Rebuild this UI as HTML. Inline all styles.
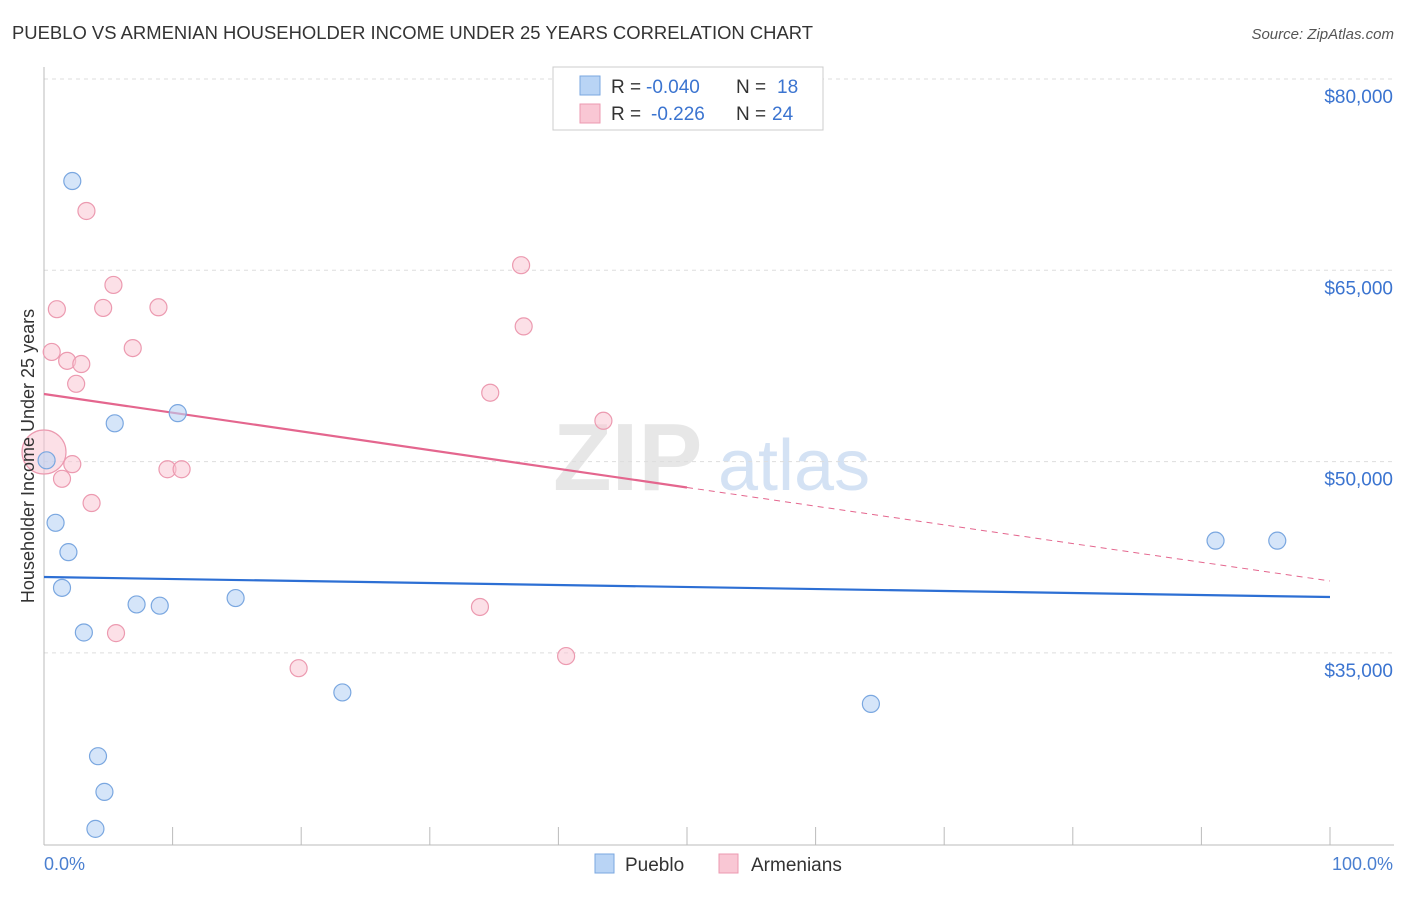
<!DOCTYPE html>
<html><head><meta charset="utf-8">
<style>
body{margin:0;background:#fff;font-family:"Liberation Sans",sans-serif;}
svg text{font-family:"Liberation Sans",sans-serif;}
</style></head>
<body>
<svg id="chart" width="1406" height="892" xmlns="http://www.w3.org/2000/svg">
<text x="12" y="39" font-size="18" fill="#333" textLength="801" lengthAdjust="spacingAndGlyphs">PUEBLO VS ARMENIAN HOUSEHOLDER INCOME UNDER 25 YEARS CORRELATION CHART</text>
<text x="1394" y="39" font-size="15" fill="#555" text-anchor="end" font-style="italic">Source: ZipAtlas.com</text>
<g>
<text x="553" y="490" font-size="96" fill="#d8d8d8" font-family="Liberation Serif" font-weight="bold" opacity="0.6">ZIP</text>
<text x="718" y="490" font-size="72" fill="#b8d0ee" opacity="0.6">atlas</text>
</g>
<g id="grid"></g>
<g id="axes"></g>
<g id="lines"></g>
<g id="points"></g>
<text transform="translate(34,456) rotate(-90)" font-size="18" fill="#333" text-anchor="middle">Householder Income Under 25 years</text>
<text x="44" y="870" font-size="18" fill="#4a7fd0">0.0%</text>
<text x="1393" y="870" font-size="18" fill="#4a7fd0" text-anchor="end">100.0%</text>
<g>
<rect x="553" y="67" width="270" height="63" fill="#fff" stroke="#ccc"/>
<rect x="580" y="76" width="20" height="19" fill="#b9d4f5" stroke="#7aa7e0"/>
<rect x="580" y="104" width="20" height="19" fill="#f9c7d4" stroke="#ec9ab0"/>
<text y="93" font-size="19" fill="#333"><tspan x="611">R =</tspan><tspan x="646" fill="#3b74d0">-0.040</tspan><tspan x="736">N =</tspan><tspan x="777" fill="#3b74d0">18</tspan></text>
<text y="120" font-size="19" fill="#333"><tspan x="611">R =</tspan><tspan x="651" fill="#3b74d0">-0.226</tspan><tspan x="736">N =</tspan><tspan x="772" fill="#3b74d0">24</tspan></text>
</g>
<g>
<rect x="595" y="854" width="19" height="19" fill="#b9d4f5" stroke="#7aa7e0"/>
<text x="625" y="871" font-size="19" fill="#333">Pueblo</text>
<rect x="719" y="854" width="19" height="19" fill="#f9c7d4" stroke="#ec9ab0"/>
<text x="751" y="871" font-size="19" fill="#333">Armenians</text>
</g>
</svg>
<script>
const yTicks=[80000,65000,50000,35000];
const yTickLabels=["$80,000","$65,000","$50,000","$35,000"];
const xTicks=[0,10,20,30,40,50,60,70,80,90,100];
const puebloX=[2.2,5.5,10.4,0.2,0.9,1.9,1.4,3.1,7.2,9.0,14.9,23.2,4.2,4.7,4.0,64.3,91.1,95.9];
const puebloY=[72000,53000,53800,50100,45200,42900,40100,36600,38800,38700,39300,31900,26900,24100,21200,31000,43800,43800];
const armX=[3.3,5.4,1.0,4.6,8.9,0.6,6.9,1.8,2.9,2.5,2.2,1.4,3.7,9.6,10.7,5.6,19.8,37.1,37.3,34.7,43.5,33.9,40.6,0];
const armY=[69650,63850,61950,62050,62100,58600,58900,57900,57650,56100,49800,48650,46750,49400,49400,36550,33800,65400,60600,55400,53200,38600,34750,50750];
const puebloTrend=[40950,39380];
const armTrend=[55300,40640];
const NS="http://www.w3.org/2000/svg";
const xs=v=>44+v*12.86;
const ys=v=>79+(80000-v)*0.012753;
function mk(t,a,p){const e=document.createElementNS(NS,t);for(const k in a)e.setAttribute(k,a[k]);document.getElementById(p).appendChild(e);return e;}
yTicks.forEach((t,i)=>{
 const l=mk('line',{x1:44,x2:1394,y1:ys(t),y2:ys(t),stroke:'#ddd','stroke-dasharray':'4,4'},'grid');
 
 
 const tx=mk('text',{x:1393,y:ys(t)+24,'font-size':19,fill:'#3b74d0','text-anchor':'end'},'grid');
 tx.textContent=yTickLabels[i];
 
 
});
const yax=mk('line',{x1:44,x2:44,y1:67,y2:845,stroke:'#bbb'},'axes');


const xax=mk('line',{x1:44,x2:1394,y1:845,y2:845,stroke:'#bbb'},'axes');


xTicks.forEach(t=>{
 const l=mk('line',{x1:xs(t),x2:xs(t),y1:827,y2:845,stroke:'#bbb'},'axes');
 
 
});
const bl=mk('line',{x1:xs(0),x2:xs(100),y1:ys(puebloTrend[0]),y2:ys(puebloTrend[1]),stroke:'#2d6fd4','stroke-width':2.2},'lines');


const pm=armTrend[0]+(armTrend[1]-armTrend[0])*0.5;
const pl=mk('line',{x1:xs(0),x2:xs(50),y1:ys(armTrend[0]),y2:ys(pm),stroke:'#e4668e','stroke-width':2.2},'lines');


const pd=mk('line',{x1:xs(50),x2:xs(100),y1:ys(pm),y2:ys(armTrend[1]),stroke:'#e4668e','stroke-width':1,'stroke-dasharray':'6,5'},'lines');


armX.forEach((x,i)=>{
 const r=(i===armX.length-1)?22:8.5;
 const c=mk('circle',{cx:xs(x),cy:ys(armY[i]),r:r,fill:'#f9c7d4','fill-opacity':0.55,stroke:'#ec9ab0','stroke-width':1.2},'points');
 
 
});
puebloX.forEach((x,i)=>{
 const c=mk('circle',{cx:xs(x),cy:ys(puebloY[i]),r:8.5,fill:'#b9d4f5','fill-opacity':0.6,stroke:'#7aa7e0','stroke-width':1.2},'points');
 
 
});
</script>
</body></html>
